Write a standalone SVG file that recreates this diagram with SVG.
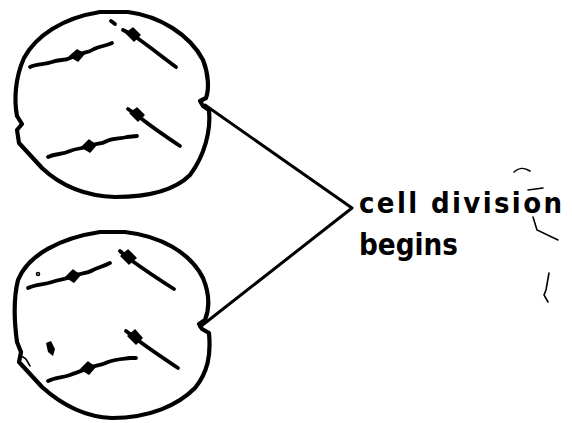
<svg xmlns="http://www.w3.org/2000/svg" width="572" height="423" viewBox="0 0 572 423">
  <style>
    .cell { fill: none; stroke: #000; stroke-width: 4.2; stroke-linejoin: round; stroke-linecap: round; }
    .chrom { fill: none; stroke: #000; stroke-width: 3.8; stroke-linecap: round; stroke-linejoin: round; }
    .cen { fill: #000; stroke: #000; stroke-width: 1.5; stroke-linejoin: round; }
    .link { fill: none; stroke: #000; stroke-width: 3; stroke-linecap: round; stroke-linejoin: round; }
    .mark { fill: none; stroke: #000; stroke-width: 1.6; stroke-linecap: round; }
    .label { font-family: "DejaVu Sans Condensed", "DejaVu Sans", "Liberation Sans", sans-serif; font-stretch: condensed; font-weight: bold; fill: #000; }
    .speck { fill: #000; }
  </style>

  <!-- upper cell -->
  <g id="cell-top">
    <path class="cell" d="M100,12 L128,12 C160,16 190,35 203,60 C209,75 209,90 206,98 L200,101 L203,106 L209,110 C211,130 205,155 190,175 C175,190 150,197 115,197 C85,196 60,185 42,168 L19,143 L17,130 L22,124 L17,116 C14,100 15,78 24,58 C36,36 62,18 100,12 Z"/>
    <path class="chrom" d="M30,67 C38,63 44,65 52,62 C60,59 64,61 70,58 L77,55 C84,52 88,53 94,49 C100,46 106,46 112,43"/>
    <path class="cen" d="M70,56 L77,50 L84,54 L78,61 Z"/>
    <path class="chrom" d="M111,21 L115,24"/>
    <path class="chrom" d="M123,30 L133,35 C146,44 160,55 176,67"/>
    <path class="cen" d="M126,33 L133,28 L140,35 L134,41 Z"/>
    <path class="chrom" d="M128,109 L137,115 C150,126 165,136 180,146"/>
    <path class="cen" d="M130,113 L137,108 L144,115 L138,121 Z"/>
    <path class="chrom" d="M48,157 C56,153 62,155 70,151 C77,148 82,149 89,146 C96,143 100,145 107,141 C114,138 120,139 127,137 L137,136"/>
    <path class="cen" d="M82,147 L89,140 L96,145 L90,152 Z"/>
  </g>

  <!-- lower cell -->
  <g id="cell-bottom">
    <path class="cell" d="M100,232 L125,232 C160,236 190,252 203,278 C210,295 209,310 205,320 L199,324 L202,329 L209,333 C211,355 208,372 195,388 C178,405 150,418 112,418 C85,417 62,405 42,387 L19,362 L21,352 L17,342 C14,320 13,300 18,280 C28,255 60,238 100,232 Z"/>
    <path class="chrom" d="M28,288 C36,284 44,285 52,282 C60,279 64,280 73,276 C80,273 86,274 93,270 C100,267 104,266 110,263"/>
    <path class="cen" d="M66,277 L73,270 L80,275 L74,282 Z"/>
    <path class="chrom" d="M120,251 L128,258 C142,268 158,279 174,289"/>
    <path class="cen" d="M121,256 L128,250 L136,258 L129,264 Z"/>
    <path class="chrom" d="M126,331 L135,338 C148,348 163,358 178,368"/>
    <path class="cen" d="M128,336 L135,330 L142,338 L136,344 Z"/>
    <path class="chrom" d="M48,381 C56,377 62,378 70,375 C78,372 82,371 88,368 C95,365 100,366 108,362 C116,359 122,359 130,358 L136,358"/>
    <path class="cen" d="M81,369 L88,362 L95,367 L89,374 Z"/>
    <path class="speck" d="M46,343 L51,341 L55,349 L53,356 L48,352 Z"/>
    <circle class="mark" cx="38" cy="274" r="1.5"/>
    <path class="mark" d="M20,355 L26,359 L30,366"/>
  </g>

  <!-- connectors from both cells to the label -->
  <g id="connectors">
    <path class="link" d="M205,105 L352,208 L200,327"/>
  </g>

  <!-- label -->
  <g id="label">
    <text class="label" x="359" y="213" font-size="29" textLength="203" lengthAdjust="spacing">cell division</text>
    <text class="label" x="359" y="255" font-size="31" textLength="99" lengthAdjust="spacingAndGlyphs">begins</text>
    <path class="mark" d="M514,172 C518,168 524,167 530,171"/>
    <path class="mark" d="M528,190 L543,188"/>
    <path class="mark" d="M533,217 L537,230 L558,240"/>
    <path class="mark" d="M549,273 L546,290 L544,295 L548,302"/>
  </g>
</svg>
